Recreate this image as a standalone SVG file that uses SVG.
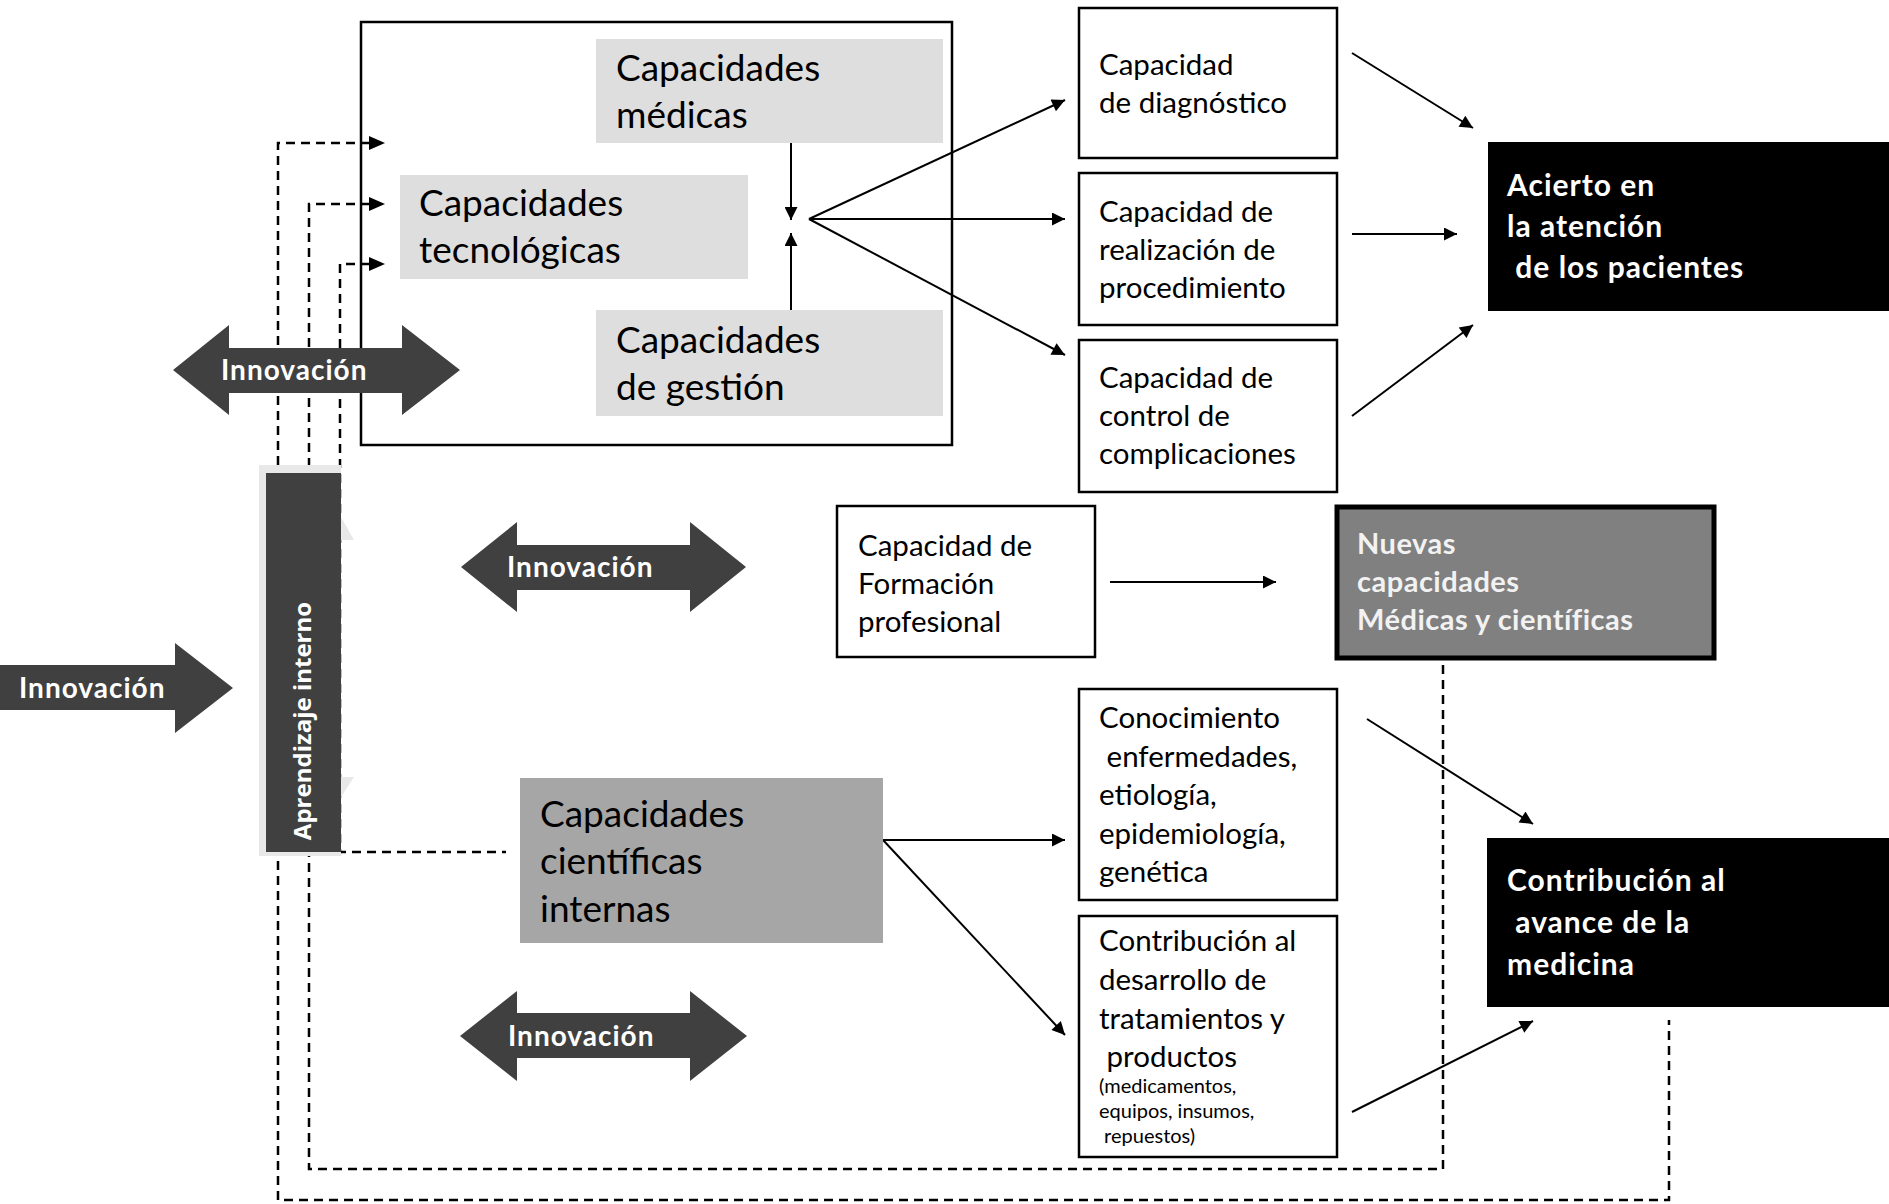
<svg xmlns="http://www.w3.org/2000/svg" width="1889" height="1204" viewBox="0 0 1889 1204">
<style>
text{font-family:Lato,"Open Sans","Liberation Sans",sans-serif}
.big{font-size:37px;fill:#000}
.med{font-size:29.5px;fill:#000}
.sm{font-size:20px;fill:#000}
.bw{font-size:30px;font-weight:bold;fill:#fff;letter-spacing:1px}
.nv{font-size:29px;font-weight:bold;fill:#f2f2f2;letter-spacing:0.5px}
.innov{font-size:28px;font-weight:bold;fill:#fff;letter-spacing:1px}
.apr{font-family:"Open Sans",Lato,sans-serif;font-size:24px;font-weight:bold;fill:#fff}
.box{fill:#fff;stroke:#000;stroke-width:2.5}
.conn{stroke:#000;stroke-width:2;fill:none;marker-end:url(#ah)}
.dash{stroke:#000;stroke-width:2.5;fill:none;stroke-dasharray:9 6}
.darr{fill:#404040}
</style>
<defs>
<marker id="ah" viewBox="0 0 10 10" refX="10" refY="5" markerWidth="15" markerHeight="13" markerUnits="userSpaceOnUse" orient="auto"><path d="M0,0L10,5L0,10z" fill="#000"/></marker>
</defs>

<g id="connectors">
<path class="dash" d="M370,143 H278 V1200 H1669 V1020"/>
<path class="dash" d="M370,204 H309 V1169 H1443 V660"/>
<path class="dash" d="M370,264 H340 V852 H506"/>
<polygon points="369,136 385,143 369,150"/>
<polygon points="369,197 385,204 369,211"/>
<polygon points="369,257 385,264 369,271"/>
<line class="conn" x1="791" y1="143" x2="791" y2="220"/>
<line class="conn" x1="791" y1="310" x2="791" y2="233"/>
<line class="conn" x1="809" y1="219" x2="1065" y2="100"/>
<line class="conn" x1="809" y1="219" x2="1065" y2="219"/>
<line class="conn" x1="809" y1="219" x2="1065" y2="355"/>
<line class="conn" x1="1352" y1="53" x2="1473" y2="128"/>
<line class="conn" x1="1352" y1="234" x2="1457" y2="234"/>
<line class="conn" x1="1352" y1="416" x2="1473" y2="325"/>
<line class="conn" x1="1110" y1="582" x2="1276" y2="582"/>
<line class="conn" x1="883" y1="840" x2="1065" y2="840"/>
<line class="conn" x1="883" y1="840" x2="1065" y2="1035"/>
<line class="conn" x1="1367" y1="719" x2="1533" y2="824"/>
<line class="conn" x1="1352" y1="1112" x2="1533" y2="1021"/>
</g>

<g id="main-box"><rect x="361" y="22" width="591" height="423" fill="none" stroke="#000" stroke-width="2.5"/></g>

<g id="cap-medicas">
<rect x="596" y="39" width="347" height="104" fill="#dedede"/>
<text class="big" x="616" y="81">Capacidades</text>
<text class="big" x="616" y="128">médicas</text>
</g>
<g id="cap-tecnologicas">
<rect x="400" y="175" width="348" height="104" fill="#dedede"/>
<text class="big" x="419" y="216">Capacidades</text>
<text class="big" x="419" y="263">tecnológicas</text>
</g>
<g id="cap-gestion">
<rect x="596" y="310" width="347" height="106" fill="#dedede"/>
<text class="big" x="616" y="353">Capacidades</text>
<text class="big" x="616" y="400">de gestión</text>
</g>

<g id="cap-diagnostico">
<rect class="box" x="1079" y="8" width="258" height="150"/>
<text class="med" x="1099" y="75">Capacidad</text>
<text class="med" x="1099" y="113">de diagnóstico</text>
</g>
<g id="cap-procedimiento">
<rect class="box" x="1079" y="173" width="258" height="152"/>
<text class="med" x="1099" y="222">Capacidad de</text>
<text class="med" x="1099" y="260">realización de</text>
<text class="med" x="1099" y="298">procedimiento</text>
</g>
<g id="cap-complicaciones">
<rect class="box" x="1079" y="340" width="258" height="152"/>
<text class="med" x="1099" y="388">Capacidad de</text>
<text class="med" x="1099" y="426">control de</text>
<text class="med" x="1099" y="464">complicaciones</text>
</g>

<g id="acierto">
<rect x="1488" y="142" width="401" height="169" fill="#000"/>
<text class="bw" x="1507" y="196">Acierto en</text>
<text class="bw" x="1507" y="237">la atención</text>
<text class="bw" x="1507" y="278" xml:space="preserve"> de los pacientes</text>
</g>

<g id="innovacion-1">
<polygon class="darr" points="173,370 229,325 229,348 402,348 402,325 460,370 402,415 402,393 229,393 229,415"/>
<text class="innov" x="221" y="380">Innovación</text>
</g>

<g id="cap-formacion">
<rect class="box" x="837" y="506" width="258" height="151"/>
<text class="med" x="858" y="556">Capacidad de</text>
<text class="med" x="858" y="594">Formación</text>
<text class="med" x="858" y="632">profesional</text>
</g>

<g id="nuevas">
<rect x="1337" y="507" width="377" height="151" fill="#808080" stroke="#000" stroke-width="5"/>
<text class="nv" x="1357" y="554">Nuevas</text>
<text class="nv" x="1357" y="592">capacidades</text>
<text class="nv" x="1357" y="630">Médicas y científicas</text>
</g>

<g id="innovacion-2">
<polygon class="darr" points="461,567 517,522 517,545 690,545 690,522 746,567 690,612 690,590 517,590 517,612"/>
<text class="innov" x="507" y="577">Innovación</text>
</g>

<g id="innovacion-3">
<polygon class="darr" points="460,1036 517,991 517,1013 690,1013 690,991 747,1036 690,1081 690,1058 517,1058 517,1081"/>
<text class="innov" x="508" y="1046">Innovación</text>
</g>

<g id="innovacion-4">
<polygon class="darr" points="0,665 175,665 175,643 233,688 175,733 175,710 0,710"/>
<text class="innov" x="19" y="698">Innovación</text>
</g>

<g id="aprendizaje">
<polygon fill="#e8e8e8" points="259,465 341,465 341,517 354,540 341,540 341,777 354,777 341,797 341,856 259,856"/>
<rect x="266" y="473" width="75" height="379" fill="#404040"/>
<text class="apr" text-anchor="middle" transform="translate(311,721) rotate(-90)">Aprendizaje interno</text>
</g>

<g id="cap-cientificas">
<rect x="520" y="778" width="363" height="165" fill="#a6a6a6"/>
<text class="big" x="540" y="827">Capacidades</text>
<text class="big" x="540" y="874">científicas</text>
<text class="big" x="540" y="922">internas</text>
</g>

<g id="conocimiento">
<rect class="box" x="1079" y="689" width="258" height="211"/>
<text class="med" x="1099" y="728">Conocimiento</text>
<text class="med" x="1099" y="767" xml:space="preserve"> enfermedades,</text>
<text class="med" x="1099" y="805">etiología,</text>
<text class="med" x="1099" y="844">epidemiología,</text>
<text class="med" x="1099" y="882">genética</text>
</g>

<g id="contribucion-desarrollo">
<rect class="box" x="1079" y="916" width="258" height="241"/>
<text class="med" x="1099" y="951">Contribución al</text>
<text class="med" x="1099" y="990">desarrollo de</text>
<text class="med" x="1099" y="1029">tratamientos y</text>
<text class="med" x="1099" y="1067" xml:space="preserve"> productos</text>
<text class="sm" x="1099" y="1093">(medicamentos,</text>
<text class="sm" x="1099" y="1118">equipos, insumos,</text>
<text class="sm" x="1099" y="1143" xml:space="preserve"> repuestos)</text>
</g>

<g id="contribucion-avance">
<rect x="1487" y="838" width="402" height="169" fill="#000"/>
<text class="bw" x="1507" y="891">Contribución al</text>
<text class="bw" x="1507" y="933" xml:space="preserve"> avance de la</text>
<text class="bw" x="1507" y="975">medicina</text>
</g>
</svg>
